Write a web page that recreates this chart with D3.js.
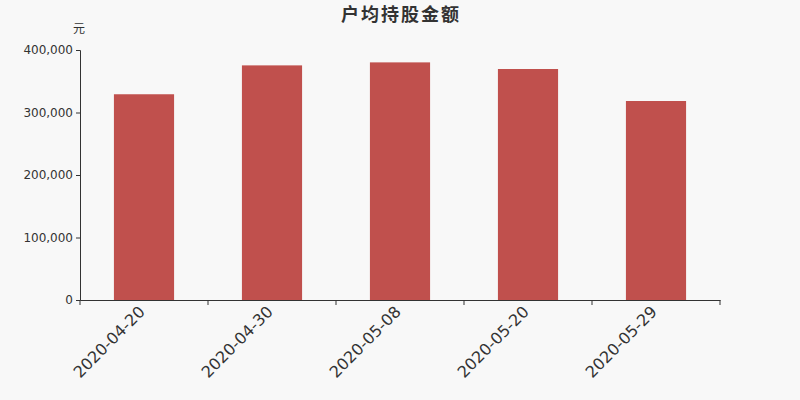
<!DOCTYPE html>
<html>
<head>
<meta charset="utf-8">
<script src="https://cdn.jsdelivr.net/npm/d3@7"></script>
<style>
  body { margin: 0; background: #f8f8f8; }
  svg { display: block; font-family: "DejaVu Sans", "Noto Sans CJK SC", sans-serif; }
</style>
</head>
<body>
<div id="chart"></div>
<script>
const dates = ['2020-04-20', '2020-04-30', '2020-05-08', '2020-05-20', '2020-05-29'];
const amounts = [329200, 375400, 380200, 369600, 318400];
const yTicks = [0, 100000, 200000, 300000, 400000];

const W = 800, H = 400;
const margin = {top: 50, right: 80, bottom: 100, left: 80};
const font = '"DejaVu Sans", "Noto Sans CJK SC", sans-serif';

const svg = d3.select('#chart').append('svg')
    .attr('width', W)
    .attr('height', H);

svg.append('rect').attr('width', W).attr('height', H).attr('fill', '#f8f8f8');

const x = d3.scaleBand()
    .domain(dates)
    .range([margin.left, W - margin.right])
    .paddingInner(0.53)
    .paddingOuter(0.265);

const y = d3.scaleLinear()
    .domain([0, 400000])
    .range([H - margin.bottom, margin.top]);

// bars
svg.selectAll('rect.bar')
    .data(dates)
    .enter()
    .append('rect')
    .attr('class', 'bar')
    .attr('x', d => x(d))
    .attr('width', x.bandwidth())
    .attr('y', (d, i) => y(amounts[i]))
    .attr('height', (d, i) => y(0) - y(amounts[i]))
    .attr('fill', '#c0504d');

// y axis
const yAxis = d3.axisLeft(y)
    .tickValues(yTicks)
    .tickSize(4)
    .tickFormat(d3.format(','));

const gy = svg.append('g')
    .attr('transform', `translate(${margin.left},0)`)
    .call(yAxis)
    .attr('font-family', font)
    .attr('font-size', 12);
gy.select('.domain').attr('stroke', '#333');
gy.selectAll('.tick line').attr('stroke', '#333');
gy.selectAll('.tick text')
    .attr('fill', '#333')
    .attr('x', -7);

// x axis - ticks at band boundaries
const step = x.step();
const xAxis = d3.axisBottom(x).tickSize(0).tickFormat('');
const gx = svg.append('g')
    .attr('transform', `translate(0,${H - margin.bottom})`)
    .call(xAxis)
    .attr('font-family', font);
gx.select('.domain').attr('stroke', '#333');

const bounds = d3.range(dates.length + 1).map(i => margin.left + i * step);
gx.selectAll('line.bound')
    .data(bounds)
    .enter()
    .append('line')
    .attr('class', 'bound')
    .attr('x1', d => d).attr('x2', d => d)
    .attr('y1', 0).attr('y2', 5)
    .attr('stroke', '#333');

gx.selectAll('text.lbl')
    .data(dates)
    .enter()
    .append('text')
    .attr('class', 'lbl')
    .attr('transform', d => `translate(${x(d) + x.bandwidth() / 2 - 6},${5}) rotate(-45)`)
    .attr('text-anchor', 'end')
    .attr('dy', '0.7em')
    .attr('fill', '#333')
    .style('font-size', '16px')
    .text(d => d);

// unit label
svg.append('text')
    .attr('x', 79)
    .attr('y', 33)
    .attr('text-anchor', 'middle')
    .attr('fill', '#333')
    .style('font-size', '12px')
    .text('元');

// title
svg.append('text')
    .attr('x', W / 2 + 1)
    .attr('y', 21)
    .attr('text-anchor', 'middle')
    .attr('fill', '#333')
    .style('font-size', '18px')
    .style('letter-spacing', '2px')
    .style('font-weight', 'bold')
    .text('户均持股金额');
</script>
</body>
</html>
